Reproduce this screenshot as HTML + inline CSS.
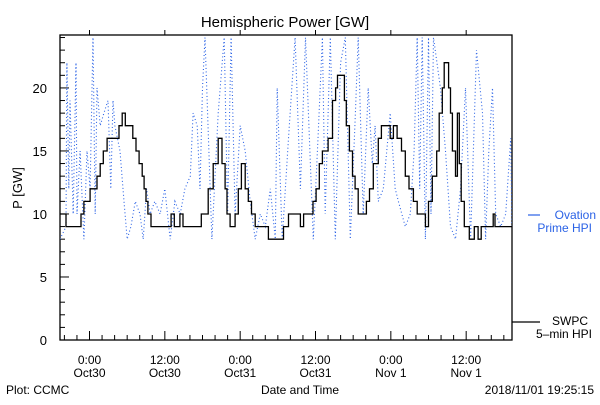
<!DOCTYPE html>
<html><head><meta charset="utf-8"><style>
body{margin:0;background:#fff;width:600px;height:400px;overflow:hidden}
text{font-family:"Liberation Sans",sans-serif}
</style></head><body>
<svg id="chart" width="600" height="400" xmlns="http://www.w3.org/2000/svg">
<rect width="600" height="400" fill="#fff"/>
<text x="285" y="27" font-size="15" text-anchor="middle">Hemispheric Power [GW]</text>
<text transform="translate(22,188) rotate(-90)" font-size="13" text-anchor="middle">P [GW]</text>
<text x="300" y="394" font-size="12" text-anchor="middle">Date and Time</text>
<text x="6" y="394" font-size="12">Plot: CCMC</text>
<text x="594" y="394" font-size="12" text-anchor="end">2018/11/01 19:25:15</text>
<g id="axes"></g>
<g id="series"></g>
<g>
<line x1="528" y1="215" x2="540" y2="215" stroke="#2a62e6" stroke-width="1.2"/>
<text x="596" y="219" font-size="12" fill="#2a62e6" text-anchor="end">Ovation</text>
<text x="592" y="232" font-size="12" fill="#2a62e6" text-anchor="end">Prime HPI</text>
<line x1="512" y1="322" x2="540" y2="322" stroke="#000" stroke-width="1.2"/>
<text x="588" y="325" font-size="12" text-anchor="end">SWPC</text>
<text x="592" y="338" font-size="12" text-anchor="end">5–min HPI</text>
</g>
</svg>
<script>
const swpcTimes=[-4.7,-3.75,-1.35,-0.9,0.1,1.2,1.7,2.2,2.8,4.7,5.2,5.7,6.9,7.4,7.9,8.4,8.7,9.0,9.3,9.8,13.0,13.5,14.4,14.9,17.8,18.9,19.7,20.5,21.1,21.6,21.9,22.4,23.2,23.7,24.2,24.8,25.3,25.8,26.4,28.5,30.9,31.7,33.6,34.1,35.6,36.1,36.6,37.1,38.0,38.7,39.2,39.5,40.6,40.9,41.4,41.9,42.3,42.8,44.1,44.6,45.2,46.0,46.5,47.9,48.4,49.0,49.7,50.3,50.9,51.6,52.2,53.5,54.0,54.6,55.3,55.7,56.2,56.5,57.2,57.5,57.8,58.3,58.6,58.9,59.2,59.7,60.5,61.3,61.9,62.4,64.3,64.6,67.3];
const swpcValues=[10,9,10,11,12,13,14,15,16,17,18,17,16,15,14,13,12,11,10,9,10,9,10,9,10,12,14,16,14,12,10,9,10,12,14,12,11,10,9,8,9,10,9,10,11,12,14,15,16,19,20,21,19,17,15,13,12,10,11,12,14,16,17,16,17,16,15,13,12,11,10,9,11,13,15,18,20,22,20,18,15,13,18,14,11,9,8,9,8,9,10,9,9];
const ovTimes=[-4.7,-3.75,-3.6,-3.3,-3.1,-2.6,-2.15,-2.0,-1.5,-0.9,-0.4,0.1,0.55,0.9,1.2,1.7,2.3,2.95,3.4,3.75,4.05,4.85,5.5,6.0,6.6,7.3,8.05,8.55,9.1,9.65,10.4,11.25,12.0,12.85,13.6,14.45,15.2,16.05,16.5,17.15,17.6,18.0,18.4,19.5,20.5,21.45,22.0,22.55,23.2,24.0,24.8,25.6,26.4,27.2,28.0,28.8,29.6,29.9,30.7,31.7,32.75,33.6,34.4,35.65,36.4,37.1,37.55,38.35,39.15,40.0,40.75,41.55,42.35,42.8,43.6,44.4,45.05,45.5,46.0,46.8,47.9,48.7,49.2,50.3,51.1,51.7,52.2,52.6,53.0,53.5,54.0,54.4,54.8,55.9,56.7,57.5,58.3,59.1,59.9,60.7,61.65,62.6,63.1,63.6,64.2,64.7,65.5,66.3,67.1,67.3];
const ovValues=[8,9,22,12,19,10,22,10,15,8,15,12,24,10,20,17,18,19,12,19,17,15,11,8,9,11,10,8,12,10,11,10,12,8,11,10,12,13,18,17,12,20,24,8,18,24,10,24,10,17,15,11,8,10,9,12,8,20,8,16,24,12,24,8,16,24,10,24,8,22,24,8,18,24,10,20,14,17,11,12,18,12,11,9,10,15,24,12,24,8,24,10,24,20,15,9,8,12,20,8,23,18,8,15,20,10,9,10,16,9];
const yTickValues=[0,5,10,15,20];
const xTickHours=[0,12,24,36,48,60];
const xTickLabels1=["0:00","12:00","0:00","12:00","0:00","12:00"];
const xTickLabels2=["Oct30","Oct30","Oct31","Oct31","Nov 1","Nov 1"];

const L=60,R=512,T=35,B=340,H0=-4.7,H1=67.3,V0=0,V1=24.2;
const NS="http://www.w3.org/2000/svg";
function xs(h){return L+(h-H0)/(H1-H0)*(R-L);}
function ys(v){return B-(v-V0)/(V1-V0)*(B-T);}
function mk(tag,attrs,parent){const e=document.createElementNS(NS,tag);for(const k in attrs)e.setAttribute(k,attrs[k]);parent.appendChild(e);return e;}
const axes=document.getElementById('axes'),series=document.getElementById('series');
const defs=mk('defs',{},series);
const cp=mk('clipPath',{id:'clip'},defs);
mk('rect',{x:L,y:T,width:R-L,height:B-T},cp);

// blue dotted series
let d='';
ovTimes.forEach((t,i)=>{d+=(i?'L':'M')+xs(t).toFixed(1)+','+ys(ovValues[i]).toFixed(1);});
const ov=mk('path',{d:d,fill:'none',stroke:'#2a62e6','stroke-width':1.1,'stroke-dasharray':'1 2.5','clip-path':'url(#clip)'},series);



// black step series
let s='';
swpcTimes.forEach((t,i)=>{const x=xs(t).toFixed(1),y=ys(swpcValues[i]).toFixed(1);
  if(i===0)s+='M'+x+','+y;else s+='H'+x+'V'+y;});
const sw=mk('path',{d:s,fill:'none',stroke:'#000','stroke-width':1.3,'clip-path':'url(#clip)'},series);



// frame
const fr=mk('rect',{x:L,y:T,width:R-L,height:B-T,fill:'none',stroke:'#000','stroke-width':1.3},axes);


// y ticks
for(let v=0;v<=24;v++){
  const tk=mk('line',{x1:L,x2:L+(v%5===0?9:5),y1:ys(v),y2:ys(v),stroke:'#000','stroke-width':1},axes);
  
  
}
yTickValues.forEach(v=>{
  const t=mk('text',{x:L-13,y:ys(v)+5,'font-size':13,'text-anchor':'end'},axes);
  t.textContent=v;
  
  
});
// x ticks
for(let h=-4;h<=66;h+=2){
  const major=(h%12===0);
  const tk=mk('line',{x1:xs(h),x2:xs(h),y1:B,y2:B-(major?9:5),stroke:'#000','stroke-width':1},axes);
  
  
  if(major){
    const tt=mk('line',{x1:xs(h),x2:xs(h),y1:T,y2:T-5,stroke:'#000','stroke-width':1},axes);
    
    
  }
}
xTickHours.forEach((h,i)=>{
  const a=mk('text',{x:xs(h),y:364,'font-size':12,'text-anchor':'middle'},axes);
  a.textContent=xTickLabels1[i];
  
  
  const b=mk('text',{x:xs(h),y:377,'font-size':12,'text-anchor':'middle'},axes);
  b.textContent=xTickLabels2[i];
  
  
});
</script>
</body></html>
